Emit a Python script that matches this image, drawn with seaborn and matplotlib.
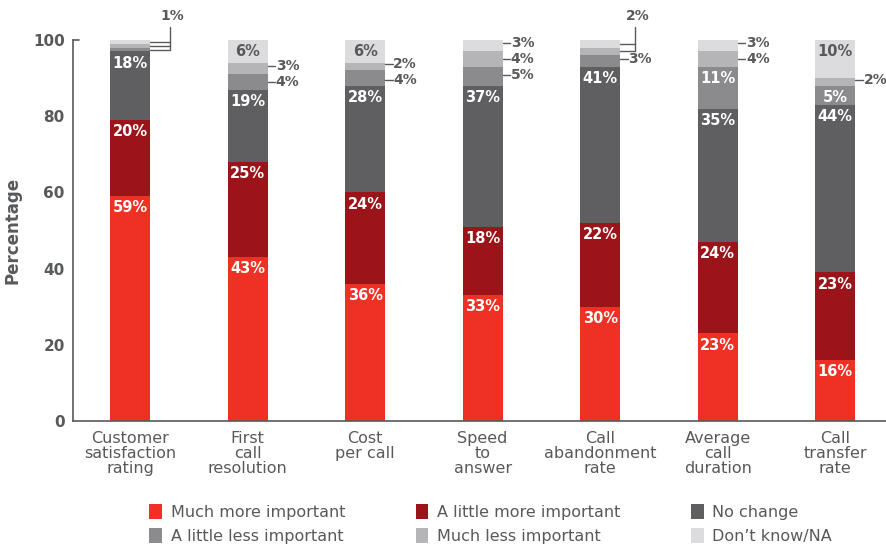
import numpy as np
import seaborn as sns
import matplotlib.pyplot as plt
from matplotlib.patches import Patch

# data
categories = ["Customer\nsatisfaction\nrating", "First\ncall\nresolution", "Cost\nper call",
              "Speed\nto\nanswer", "Call\nabandonment\nrate", "Average\ncall\nduration",
              "Call\ntransfer\nrate"]
responses = ["Much more important", "A little more important", "No change",
             "A little less important", "Much less important", "Don\u2019t know/NA"]
much_more = [59, 43, 36, 33, 30, 23, 16]
little_more = [20, 25, 24, 18, 22, 24, 23]
no_change = [18, 19, 28, 37, 41, 35, 44]
little_less = [1, 4, 4, 5, 3, 11, 5]
much_less = [1, 3, 2, 4, 2, 4, 2]
dont_know = [1, 6, 6, 3, 2, 3, 10]

colors = ["#ee3124", "#9b1419", "#5f5f61", "#8b8b8d", "#b5b5b7", "#dcdcde"]
txt = "#58595b"

layers = np.array([much_more, little_more, no_change, little_less, much_less, dont_know])
tops = layers.cumsum(axis=0)
bottoms = tops - layers

sns.set_style("white")
plt.rcParams["font.family"] = ["DejaVu Sans"]

fig = plt.figure(figsize=(8.87, 5.46), dpi=100)
ax = fig.add_axes([73 / 887, 1 - 421 / 546, (887 - 73) / 887, (421 - 40) / 546])

w = 0.34
# stacked bars: draw cumulative totals from the top layer down
for i in range(len(responses) - 1, -1, -1):
    sns.barplot(x=categories, y=tops[i], order=categories, color=colors[i],
                saturation=1, width=w, errorbar=None, linewidth=0, ax=ax)

# which small segments get their label outside with a leader line
outside = {(1, 3), (1, 4), (2, 3), (2, 4), (3, 3), (3, 4), (3, 5), (4, 3), (5, 4), (5, 5), (6, 4)}
bracketed = {(0, 3), (0, 4), (0, 5), (4, 4), (4, 5)}

for j in range(len(categories)):
    prev = 104.0
    for i in range(len(responses) - 1, -1, -1):
        v = layers[i, j]
        if (j, i) in bracketed:
            continue
        if (j, i) in outside:
            yc = bottoms[i, j] + v / 2
            yt = min(yc + 0.6, prev - 4.2)
            prev = yt
            ax.plot([j + w / 2, j + w / 2 + 0.065], [yt, yt], color=txt, lw=1, clip_on=False)
            ax.text(j + w / 2 + 0.07, yt, f"{v}%", color=txt, fontsize=10,
                    fontweight="bold", va="center", ha="left")
        else:
            c = txt if i == 5 else "white"
            ax.annotate(f"{v}%", (j, tops[i, j]), xytext=(0, -3), textcoords="offset points",
                        ha="center", va="top", color=c, fontsize=10.5, fontweight="bold")

# bracket labels for the thinnest segments
for j, xo, ytop in [(0, 0.17, 103.5), (4, 0.13, 103.5)]:
    idx = [i for (jj, i) in sorted(bracketed) if jj == j]
    ys = [bottoms[i, j] + layers[i, j] / 2 for i in idx]
    for yc in ys:
        ax.plot([j + w / 2, j + w / 2 + xo], [yc, yc], color=txt, lw=1, clip_on=False)
    ax.plot([j + w / 2 + xo] * 2, [min(ys), ytop], color=txt, lw=1, clip_on=False)
    ax.text(j + w / 2 + xo + 0.02, ytop + 1, f"{layers[idx[0], j]}%", color=txt,
            fontsize=10, fontweight="bold", ha="center", va="bottom", clip_on=False)

ax.set_xlim(-0.485, 6.44)
ax.set_ylim(0, 100)
ax.set_yticks([0, 20, 40, 60, 80, 100])
ax.tick_params(axis="both", length=0, colors=txt, labelsize=11)
ax.tick_params(axis="x", pad=7, labelsize=11.5)
ax.tick_params(axis="y", pad=6)
for lab in ax.get_xticklabels():
    lab.set_linespacing(1.0)
for lab in ax.get_yticklabels():
    lab.set_fontweight("bold")
ax.plot([-0.485, -0.43], [100, 100], color=txt, lw=1.2, clip_on=False)
ax.set_xlabel("")
ax.set_ylabel("Percentage", color=txt, fontsize=12, fontweight="bold", labelpad=8)
sns.despine(ax=ax, top=True, right=True)
for s in ["left", "bottom"]:
    ax.spines[s].set_color(txt)
    ax.spines[s].set_linewidth(1.2)

order = [0, 3, 1, 4, 2, 5]
handles = [Patch(facecolor=colors[k], edgecolor="none", label=responses[k]) for k in order]
fig.legend(handles=handles, ncol=3, loc="lower left", bbox_to_anchor=(0.152, -0.022),
           frameon=False, fontsize=11.5, handlelength=0.8, handleheight=1.05,
           handletextpad=0.55, columnspacing=4.4, labelspacing=0.5, labelcolor=txt)

fig.savefig("out.png", dpi=100)
